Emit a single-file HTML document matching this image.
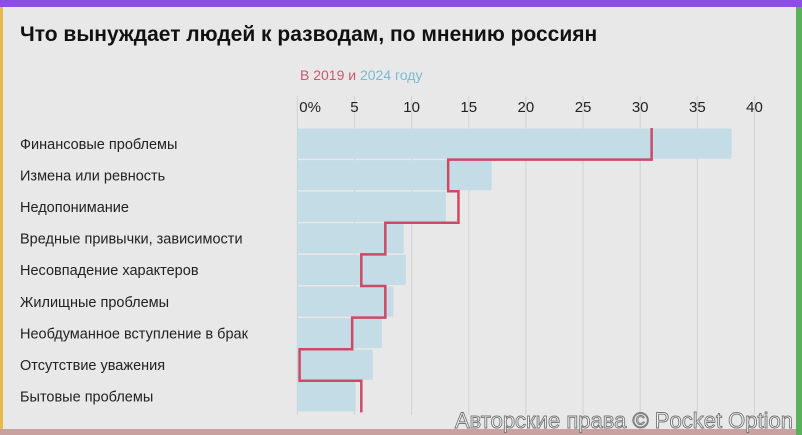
<!DOCTYPE html>
<html><head><meta charset="utf-8"><style>
html,body{margin:0;padding:0}
body{width:802px;height:435px;overflow:hidden;background:#e8e8e8;font-family:"Liberation Sans","Noto Sans CJK SC",sans-serif;position:relative}
</style></head><body>
<svg id="chart" width="802" height="435" xmlns="http://www.w3.org/2000/svg" style="position:absolute;left:0;top:0">
<rect x="0" y="0" width="802" height="435" fill="#e8e8e8"/>
<rect x="0" y="0" width="802" height="7" fill="#8c4fe2"/>
<rect x="0" y="7" width="3" height="428" fill="#e8b84a"/>
<rect x="796" y="7" width="6" height="428" fill="#5bb05b"/>
<rect x="0" y="429" width="796" height="6" fill="#c9a29f"/>
<text x="20" y="41" font-size="21" font-weight="bold" fill="#111">Что вынуждает людей к разводам, по мнению россиян</text>
<text x="300" y="80" font-size="14"><tspan fill="#d0566f">В 2019 и </tspan><tspan fill="#7bbad0">2024 году</tspan></text>
<g id="grid"></g><g id="bars"></g><g id="labels"></g><g id="line"></g>
<text x="793" y="428" text-anchor="end" font-size="22" fill="#f4f4f4" stroke="#777" stroke-width="0.9">Авторские права © Pocket Option</text>
</svg>
<script>
const categories=["Финансовые проблемы","Измена или ревность","Недопонимание","Вредные привычки, зависимости","Несовпадение характеров","Жилищные проблемы","Необдуманное вступление в брак","Отсутствие уважения","Бытовые проблемы"];
const values2024=[38,17,13,9.3,9.5,8.4,7.4,6.6,5.1];
const values2019=[31,13.2,14.1,7.7,5.6,7.7,4.8,0.2,5.6];
const ticks=[0,5,10,15,20,25,30,35,40];
const tickLabels=["0%","5","10","15","20","25","30","35","40"];
const NS="http://www.w3.org/2000/svg";
const x0=297.3,xs=11.43,yTop=128,rowH=31.6;
const X=v=>x0+v*xs, Y=i=>yTop+i*rowH;
function mk(t,a,p){const e=document.createElementNS(NS,t);for(const k in a)e.setAttribute(k,a[k]);p.appendChild(e);return e;}
const grid=document.getElementById('grid'),bars=document.getElementById('bars'),labels=document.getElementById('labels'),line=document.getElementById('line');
ticks.forEach((t,i)=>{
  const l=mk('line',{x1:X(t),x2:X(t),y1:96,y2:415,stroke:'#d2d2d2','stroke-width':1},grid);
  
  
  const tx=mk('text',{x:X(t)+(i==0?2:0),y:112,'font-size':15,fill:'#222','text-anchor':i==0?'start':'middle'},grid);
  tx.textContent=tickLabels[i];
  
  
});
categories.forEach((c,i)=>{
  const r=mk('rect',{x:X(0),y:Y(i)+0.5,width:X(values2024[i])-X(0),height:rowH-1.5,fill:'#c3dce5'},bars);
  
  
  const t=mk('text',{x:20,y:Y(i)+rowH/2+5,'font-size':14.5,fill:'#222'},labels);
  t.textContent=c;
  
  
});
let d='M'+X(values2019[0])+' '+Y(0);
values2019.forEach((v,i)=>{
  d+=' L'+X(v)+' '+Y(i+1);
  if(i<values2019.length-1)d+=' L'+X(values2019[i+1])+' '+Y(i+1);
});
const p=mk('path',{d:d,fill:'none',stroke:'#cc4a66','stroke-width':2.5},line);


</script>
</body></html>
